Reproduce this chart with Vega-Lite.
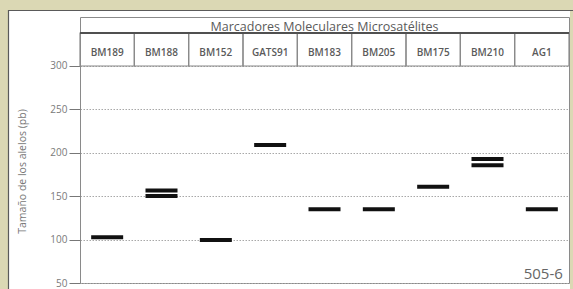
{
  "$schema": "https://vega.github.io/schema/vega-lite/v6.json",
  "width": 489,
  "height": 266,
  "autosize": {"type": "none"},
  "padding": {"left": 80, "top": 17, "right": 4, "bottom": 6},
  "background": "white",
  "config": {"view": {"stroke": "#8a8a8a", "strokeWidth": 1}, "font": "Open Sans"},
  "datasets": {
    "titulo": [{"texto": "Marcadores Moleculares Microsatélites"}],
    "etiqueta": [{"texto": "505-6"}],
    "marcadores": [
      {"marcador": "BM189"}, {"marcador": "BM188"}, {"marcador": "BM152"},
      {"marcador": "GATS91"}, {"marcador": "BM183"}, {"marcador": "BM205"},
      {"marcador": "BM175"}, {"marcador": "BM210"}, {"marcador": "AG1"}
    ],
    "alelos": [
      {"marcador": "BM189", "tamano": 102.6},
      {"marcador": "BM188", "tamano": 156.5},
      {"marcador": "BM188", "tamano": 150.3},
      {"marcador": "BM152", "tamano": 99.6},
      {"marcador": "GATS91", "tamano": 209},
      {"marcador": "BM183", "tamano": 135},
      {"marcador": "BM205", "tamano": 135},
      {"marcador": "BM175", "tamano": 161},
      {"marcador": "BM210", "tamano": 192.8},
      {"marcador": "BM210", "tamano": 185.6},
      {"marcador": "AG1", "tamano": 135}
    ]
  },
  "layer": [
    {
      "data": {"name": "titulo"},
      "mark": {"type": "rect", "fill": "transparent", "stroke": "#dbd8b4", "strokeWidth": 20},
      "encoding": {"x": {"value": -82}, "x2": {"value": 500}, "y": {"value": -17}, "y2": {"value": 293}}
    },
    {
      "data": {"name": "titulo"},
      "mark": {"type": "rect", "fill": "transparent", "stroke": "#5a5a5a", "strokeWidth": 1.2},
      "encoding": {"x": {"value": -71.5}, "x2": {"value": 495}, "y": {"value": -6.5}, "y2": {"value": 293}}
    },
    {
      "data": {"name": "marcadores"},
      "mark": {"type": "rect", "fill": "transparent", "stroke": "#8a8a8a", "strokeWidth": 1.2},
      "encoding": {
        "x": {"field": "marcador", "type": "nominal", "axis": null,
              "scale": {"domain": ["BM189", "BM188", "BM152", "GATS91", "BM183", "BM205", "BM175", "BM210", "AG1"], "paddingInner": 0, "paddingOuter": 0}},
        "y": {"datum": 300},
        "y2": {"datum": 338}
      }
    },
    {
      "data": {"name": "titulo"},
      "mark": {"type": "rule", "stroke": "#505050", "strokeWidth": 2},
      "encoding": {"x": {"value": 0}, "x2": {"value": "width"}, "y": {"datum": 338}}
    },
    {
      "data": {"name": "titulo"},
      "mark": {"type": "text", "fontSize": 12.5, "color": "#5a5a5a", "baseline": "alphabetic", "align": "center"},
      "encoding": {"x": {"datum": "BM183"}, "y": {"datum": 340.5}, "text": {"field": "texto"}}
    },
    {
      "data": {"name": "marcadores"},
      "mark": {"type": "text", "fontSize": 10, "fontWeight": 600, "color": "#5a5a5a", "baseline": "middle", "align": "center"},
      "encoding": {"x": {"field": "marcador", "type": "nominal"}, "y": {"datum": 315}, "text": {"field": "marcador"}}
    },
    {
      "data": {"name": "alelos"},
      "mark": {"type": "tick", "size": 32, "thickness": 4, "color": "#111111", "opacity": 1},
      "encoding": {
        "x": {"field": "marcador", "type": "nominal"},
        "y": {"field": "tamano", "type": "quantitative",
              "scale": {"domain": [50, 356.45], "nice": false, "zero": false},
              "axis": {"values": [50, 100, 150, 200, 250, 300], "title": "Tamaño de los alelos (pb)",
                       "grid": true, "gridDash": [1.5, 1.5], "gridColor": "#a8a8a8",
                       "domain": false, "tickColor": "#777777", "tickSize": 11, "labelPadding": 2,
                       "labelFontSize": 10, "labelColor": "#7a7a7a",
                       "titleFontSize": 10.5, "titleColor": "#777777", "titleFontWeight": "normal",
                       "titleX": -58, "titleY": 154, "titleAngle": 270, "titleBaseline": "middle", "titleAlign": "center"}}
      }
    },
    {
      "data": {"name": "etiqueta"},
      "mark": {"type": "text", "fontSize": 15, "color": "#666666", "align": "right", "baseline": "alphabetic", "dx": 21},
      "encoding": {"x": {"datum": "AG1"}, "y": {"datum": 54.6}, "text": {"field": "texto"}}
    }
  ]
}
